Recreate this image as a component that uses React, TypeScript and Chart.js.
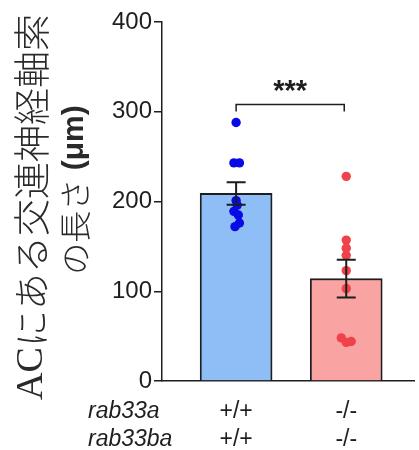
import { useEffect, useRef } from "react";
import { Chart, registerables } from "chart.js";

Chart.register(...registerables);

// ---- data ----
const groupPositions = [1, 2];
const genotypeA = ["+/+", "-/-"]; // rab33a
const genotypeB = ["+/+", "-/-"]; // rab33ba
const rowTitles = ["rab33a", "rab33ba"];
const barMeans = [209, 114];
const barSEM = [12.5, 21];
const wtValues = [288, 243, 243, 201, 196, 189, 185, 176, 172];
const wtJitter = [0, -0.02, 0.03, 0, 0.01, -0.02, 0.02, 0.03, -0.01];
const koValues = [228, 157, 148, 140, 123, 103, 48, 44, 43];
const koJitter = [0, 0, 0, 0, 0, 0, -0.045, 0.045, 0];
const yMin = 0;
const yMax = 400;
const yStep = 100;
const sigLevel = 308;
const sigLabel = "***";
const titleLine1 = [
  { text: "AC", kind: "latin" },
  { text: "にある交連神経軸索", kind: "cjk" },
];
const titleLine2 = [
  { text: "の長さ", kind: "cjk2" },
  { text: " (μm)", kind: "unit" },
];

// ---- styles ----
const INK = "#1e1e1e";
const BLUE_FILL = "#8fbdf6";
const RED_FILL = "#f9a3a3";
const BLUE_DOT = "#0a0ae6";
const RED_DOT = "#f0424a";
const SANS = "'Liberation Sans', Arial, Helvetica, sans-serif";
const FONT_FOR: Record<string, string> = {
  latin: "38px 'Liberation Serif', 'Times New Roman', serif",
  cjk: "300 37px 'Noto Sans CJK JP', sans-serif",
  cjk2: "300 32px 'Noto Sans CJK JP', sans-serif",
  unit: "bold 30px " + SANS,
};

function drawRotated(ctx: CanvasRenderingContext2D, cx: number, cy: number, segs: { text: string; kind: string }[]) {
  ctx.save();
  ctx.translate(cx, cy);
  ctx.rotate(-Math.PI / 2);
  ctx.textBaseline = "middle";
  ctx.textAlign = "left";
  ctx.fillStyle = "#2a2a2a";
  const widths = segs.map((s) => {
    ctx.font = FONT_FOR[s.kind];
    return ctx.measureText(s.text).width;
  });
  const total = widths.reduce((a, b) => a + b, 0);
  let pos = -total / 2;
  segs.forEach((s, i) => {
    ctx.font = FONT_FOR[s.kind];
    ctx.fillText(s.text, pos, 0);
    pos += widths[i];
  });
  ctx.restore();
}

const overlayPlugin = {
  id: "overlay",
  afterDatasetsDraw(chart: any) {
    const { ctx, scales } = chart;
    const x = scales.x;
    const y = scales.y;
    ctx.save();
    ctx.strokeStyle = INK;
    ctx.lineWidth = 2;
    groupPositions.forEach((g, i) => {
      const px = x.getPixelForValue(g);
      const top = y.getPixelForValue(barMeans[i] + barSEM[i]);
      const bot = y.getPixelForValue(barMeans[i] - barSEM[i]);
      ctx.beginPath();
      ctx.moveTo(px, top);
      ctx.lineTo(px, bot);
      ctx.moveTo(px - 9.5, top);
      ctx.lineTo(px + 9.5, top);
      ctx.moveTo(px - 9.5, bot);
      ctx.lineTo(px + 9.5, bot);
      ctx.stroke();
    });
    // significance bracket
    const bx1 = x.getPixelForValue(groupPositions[0]);
    const bx2 = x.getPixelForValue(groupPositions[1]) - 2;
    const by = y.getPixelForValue(sigLevel);
    ctx.lineWidth = 1.5;
    ctx.beginPath();
    ctx.moveTo(bx1, by + 7);
    ctx.lineTo(bx1, by);
    ctx.lineTo(bx2, by);
    ctx.lineTo(bx2, by + 7);
    ctx.stroke();
    ctx.font = "bold 29px " + SANS;
    ctx.textAlign = "center";
    ctx.textBaseline = "alphabetic";
    ctx.fillStyle = INK;
    ctx.fillText(sigLabel, (bx1 + bx2) / 2, by - 5);
    ctx.restore();
  },
  afterDraw(chart: any) {
    const { ctx, scales } = chart;
    const x = scales.x;
    ctx.save();
    ctx.font = "italic 23px " + SANS;
    ctx.fillStyle = INK;
    ctx.textAlign = "left";
    ctx.textBaseline = "middle";
    const lh = 28;
    rowTitles.forEach((t, i) => {
      ctx.fillText(t, 88, x.top + 17 + lh / 2 + i * lh);
    });
    ctx.restore();
    drawRotated(ctx, 32, 207, titleLine1);
    drawRotated(ctx, 75, 190, titleLine2);
  },
};

export default function App() {
  const ref = useRef<HTMLCanvasElement | null>(null);
  useEffect(() => {
    document.body.style.margin = "0";
    const canvas = ref.current!;
    const chart = new Chart(canvas, {
      type: "bar",
      data: {
        datasets: [
          {
            type: "scatter",
            data: wtValues.map((v, i) => ({ x: groupPositions[0] + wtJitter[i], y: v })),
            backgroundColor: BLUE_DOT,
            borderColor: BLUE_DOT,
            pointRadius: 4.7,
            borderWidth: 0,
            order: 0,
          } as any,
          {
            type: "scatter",
            data: koValues.map((v, i) => ({ x: groupPositions[1] + koJitter[i], y: v })),
            backgroundColor: RED_DOT,
            borderColor: RED_DOT,
            pointRadius: 4.7,
            borderWidth: 0,
            order: 0,
          } as any,
          {
            type: "bar",
            data: barMeans.map((m, i) => ({ x: groupPositions[i], y: m })),
            backgroundColor: [BLUE_FILL, RED_FILL],
            borderColor: INK,
            borderWidth: 1.8,
            barThickness: 72,
            order: 1,
          } as any,
        ],
      },
      options: {
        responsive: false,
        animation: false,
        devicePixelRatio: 1,
        layout: { padding: { top: 22, right: 0, left: 0, bottom: 0 } },
        plugins: { legend: { display: false }, tooltip: { enabled: false } },
        scales: {
          x: {
            type: "linear",
            min: 0.327,
            max: 2.618,
            offset: false,
            grid: { display: false, drawTicks: false, offset: false },
            border: { display: true, color: INK, width: 1.5 },
            afterBuildTicks: (scale: any) => {
              scale.ticks = groupPositions.map((v) => ({ value: v }));
            },
            afterFit: (scale: any) => {
              scale.height = 69;
            },
            ticks: {
              padding: 17,
              color: INK,
              maxRotation: 0,
              autoSkip: false,
              font: { family: SANS, size: 23, lineHeight: 28 / 23 },
              callback: (_v: any, i: number) => [genotypeA[i], genotypeB[i]],
            },
          },
          y: {
            min: yMin,
            max: yMax,
            grid: {
              display: true,
              drawOnChartArea: false,
              drawTicks: true,
              tickLength: 8,
              color: INK,
              lineWidth: 1.5,
            },
            border: { display: true, color: INK, width: 1.5 },
            afterFit: (scale: any) => {
              scale.width = 162;
            },
            ticks: {
              stepSize: yStep,
              padding: 2,
              color: INK,
              font: { family: SANS, size: 24 },
            },
          },
        },
      },
      plugins: [overlayPlugin],
    });
    return () => chart.destroy();
  }, []);
  return <canvas ref={ref} width={419} height={450} style={{ display: "block", width: 419, height: 450 }} />;
}
